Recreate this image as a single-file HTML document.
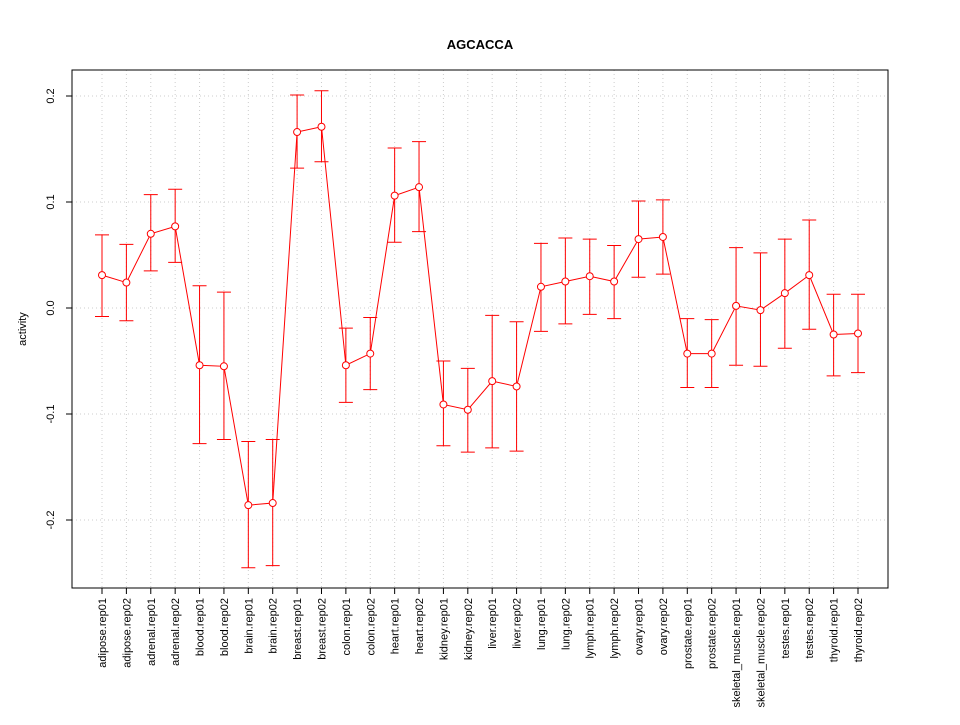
<!DOCTYPE html>
<html><head><meta charset="utf-8"><style>
body{margin:0;background:#fff}
text{font-family:"Liberation Sans",sans-serif;font-size:11px;fill:#000}
</style></head><body>
<svg id="chart" width="960" height="720" xmlns="http://www.w3.org/2000/svg">
<rect width="960" height="720" fill="#fff"/>
<text x="480" y="49" text-anchor="middle" style="font-weight:bold;font-size:13px">AGCACCA</text>
<text transform="translate(26,329) rotate(-90)" text-anchor="middle">activity</text>
<g id="grid"></g><g id="axes"></g><g id="series"></g>
<rect x="72" y="70" width="816" height="518" fill="none" stroke="#000"/>
</svg>
<script>
const categories=["adipose.rep01","adipose.rep02","adrenal.rep01","adrenal.rep02","blood.rep01","blood.rep02","brain.rep01","brain.rep02","breast.rep01","breast.rep02","colon.rep01","colon.rep02","heart.rep01","heart.rep02","kidney.rep01","kidney.rep02","liver.rep01","liver.rep02","lung.rep01","lung.rep02","lymph.rep01","lymph.rep02","ovary.rep01","ovary.rep02","prostate.rep01","prostate.rep02","skeletal_muscle.rep01","skeletal_muscle.rep02","testes.rep01","testes.rep02","thyroid.rep01","thyroid.rep02"];
const values=[0.031,0.024,0.070,0.077,-0.054,-0.055,-0.186,-0.184,0.166,0.171,-0.054,-0.043,0.106,0.114,-0.091,-0.096,-0.069,-0.074,0.020,0.025,0.030,0.025,0.065,0.067,-0.043,-0.043,0.002,-0.002,0.014,0.031,-0.025,-0.024];
const upper=[0.069,0.060,0.107,0.112,0.021,0.015,-0.126,-0.124,0.201,0.205,-0.019,-0.009,0.151,0.157,-0.050,-0.057,-0.007,-0.013,0.061,0.066,0.065,0.059,0.101,0.102,-0.010,-0.011,0.057,0.052,0.065,0.083,0.013,0.013];
const lower=[-0.008,-0.012,0.035,0.043,-0.128,-0.124,-0.245,-0.243,0.132,0.138,-0.089,-0.077,0.062,0.072,-0.130,-0.136,-0.132,-0.135,-0.022,-0.015,-0.006,-0.010,0.029,0.032,-0.075,-0.075,-0.054,-0.055,-0.038,-0.020,-0.064,-0.061];
const yTicks=[-0.2,-0.1,0.0,0.1,0.2];
const yTickLabels=["-0.2","-0.1","0.0","0.1","0.2"];
const NS="http://www.w3.org/2000/svg";
const xS=i=>102+i*(756/(categories.length-1));
const yS=v=>308-v*1060;
function mk(tag,attrs,parent){const e=document.createElementNS(NS,tag);for(const k in attrs)e.setAttribute(k,attrs[k]);parent.appendChild(e);return e;}
const grid=document.getElementById('grid'),axes=document.getElementById('axes'),ser=document.getElementById('series');
yTicks.forEach((t,i)=>{
 const g=mk('line',{x1:72,x2:888,y1:yS(t),y2:yS(t),stroke:'#ccc','stroke-dasharray':'1,3'},grid);
 
 
 const tk=mk('line',{x1:66,x2:72,y1:yS(t),y2:yS(t),stroke:'#000'},axes);
 
 
 const tx=mk('text',{transform:`translate(54,${yS(t)}) rotate(-90)`,'text-anchor':'middle'},axes);
 tx.textContent=yTickLabels[i];
 
 
});
categories.forEach((c,i)=>{
 const x=xS(i);
 const g=mk('line',{x1:x,x2:x,y1:70,y2:588,stroke:'#ccc','stroke-dasharray':'1,3'},grid);
 
 
 const tk=mk('line',{x1:x,x2:x,y1:588,y2:594,stroke:'#000'},axes);
 
 
 const tx=mk('text',{transform:`translate(${x+4},598) rotate(-90)`,'text-anchor':'end'},axes);
 tx.textContent=c;
 
 
});
const pts=values.map((v,i)=>xS(i)+','+yS(v)).join(' ');
const pl=mk('polyline',{points:pts,fill:'none',stroke:'#f00'},ser);


values.forEach((v,i)=>{
 const x=xS(i);
 const eb=mk('path',{d:`M${x},${yS(upper[i])}V${yS(lower[i])}M${x-7},${yS(upper[i])}H${x+7}M${x-7},${yS(lower[i])}H${x+7}`,stroke:'#f00',fill:'none'},ser);
 
 
 const p=mk('circle',{cx:x,cy:yS(v),r:3.5,fill:'#fff',stroke:'#f00'},ser);
 
 
});
</script>
</body></html>
